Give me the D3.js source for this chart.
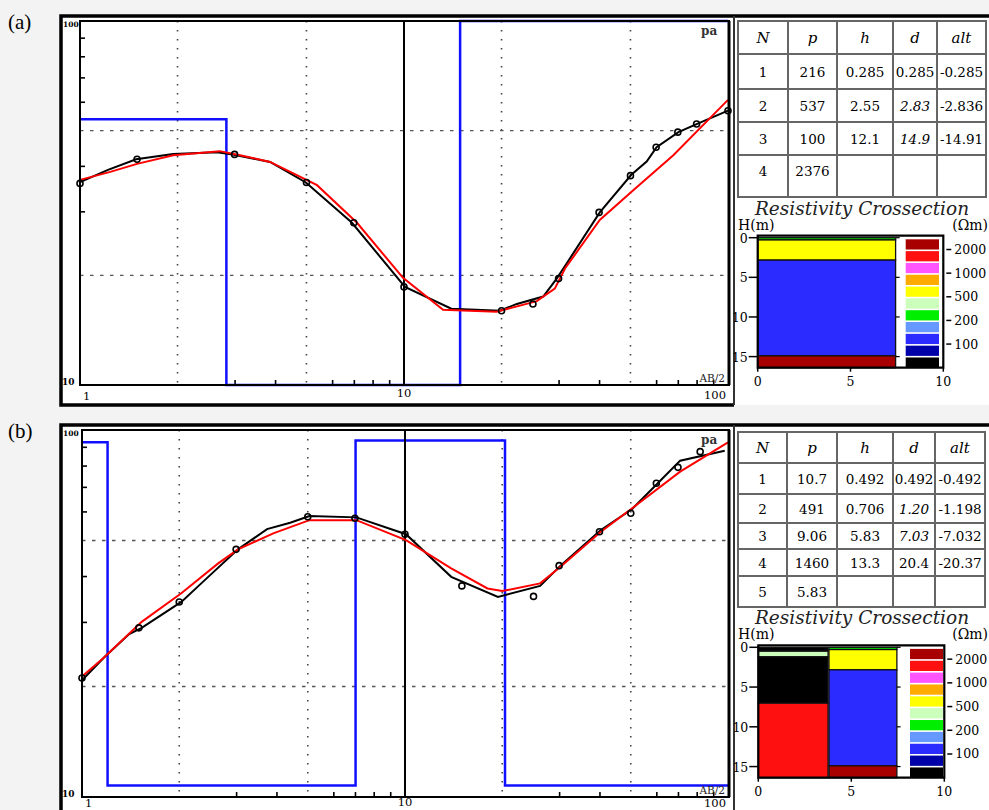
<!DOCTYPE html>
<html>
<head>
<meta charset="utf-8">
<script src="https://cdn.jsdelivr.net/npm/d3@7"></script>
<style>
  body { margin: 0; background: #f3f3f3; }
  svg { display: block; }
</style>
</head>
<body>
<svg id="chart" width="989" height="810"></svg>
<script>
// ---- sounding (a) : AB/2 vs apparent resistivity ----
const abA = [1, 1.5, 3, 5, 7, 10, 20, 25, 30, 40, 50, 60, 70, 80, 100];
const rhoObsA = [35.8, 41.7, 43.0, 36.0, 27.9, 18.6, 16.0, 16.7, 19.6, 29.8, 37.6, 45.0, 49.5, 52.1, 56.7];
const fieldA = [[1, 36.1], [1.22, 39.0], [1.49, 41.7], [1.94, 43.1], [2.65, 43.6], [2.96, 43.0], [3.86, 41.0],
  [4.98, 36.0], [6.91, 27.9], [10.07, 18.6], [14.0, 16.2], [19.8, 16.0], [22.3, 16.7], [26.9, 17.5],
  [29.6, 19.6], [31.8, 21.6], [40.2, 29.8], [50.3, 37.8], [56.1, 41.1], [60.2, 45.0], [70.3, 49.5],
  [80, 52.1], [100, 56.7]];
const fitA = [[1, 36.6], [1.24, 38.5], [1.5, 40.5], [1.94, 42.8], [2.7, 43.9], [3.12, 42.8], [3.86, 41.0],
  [5.39, 35.4], [7.16, 27.9], [9.93, 19.7], [13.2, 16.1], [19.3, 15.9], [25.7, 17.0], [29.2, 18.4],
  [31.4, 20.9], [40.2, 28.4], [51.0, 34.3], [67.8, 42.8], [100, 60.7]];
const stepA = [[1, 53.7], [2.83, 10], [14.9, 100], [100, 100]];

// ---- sounding (b) ----
const abB = [1, 1.5, 2, 3, 5, 7, 10, 15, 25, 30, 40, 50, 60, 70, 82];
const rhoObsB = [21.1, 28.9, 34.0, 47.3, 58.0, 57.5, 52.0, 37.6, 35.2, 42.7, 52.8, 59.3, 71.6, 79.1, 87.3];
const fieldB = [[1, 20.8], [1.17, 24.0], [1.40, 27.8], [1.53, 28.9], [2.03, 34.0], [2.34, 38.2], [3.04, 47.3],
  [3.74, 53.7], [4.41, 55.9], [5.06, 58.3], [7.07, 57.8], [10.07, 52.0], [13.9, 39.8], [19.4, 35.1],
  [26.2, 37.6], [30.3, 42.7], [40.4, 53.4], [50.5, 60.9], [60.6, 71.6], [71.1, 82.5], [97.7, 87.8]];
const fitB = [[1, 21.3], [1.17, 24.0], [1.53, 30.0], [2.03, 35.9], [2.64, 43.3], [3.04, 47.3], [3.91, 52.3],
  [5.06, 56.8], [7.07, 56.8], [10.07, 50.1], [13.9, 42.0], [18.0, 37.0], [20.0, 36.4], [26.2, 38.2],
  [30.3, 42.4], [40.4, 52.8], [50.5, 61.2], [71.1, 77.0], [100, 92.5]];
const stepB = [[1, 92.6], [1.20, 10.75], [7.03, 93.6], [20.4, 10.75], [100, 10.75]];

// axis ticks
const xGrid = [2, 5, 20, 50];
const xMinor = [3, 4, 6, 7, 8, 9, 30, 40, 60, 70, 80, 90];
const yGrid = [20, 50];
const yMinor = [30, 40, 60, 70, 80, 90];
const xTickLabels = [1, 10, 100];

// ---- layer tables ----
const tableHeader = ['N', 'p', 'h', 'd', 'alt'];
const tableA = [
  ['1', '216', '0.285', '0.285', '-0.285'],
  ['2', '537', '2.55', '2.83', '-2.836'],
  ['3', '100', '12.1', '14.9', '-14.91'],
  ['4', '2376', '', '', '']
];
const italicA = ['1,3', '2,3'];
const tableB = [
  ['1', '10.7', '0.492', '0.492', '-0.492'],
  ['2', '491', '0.706', '1.20', '-1.198'],
  ['3', '9.06', '5.83', '7.03', '-7.032'],
  ['4', '1460', '13.3', '20.4', '-20.37'],
  ['5', '5.83', '', '', '']
];
const italicB = ['1,3', '2,3'];

// ---- layer models for cross-sections ----
const rhoModelA = [216, 537, 100, 2376];
const depthModelA = [0.285, 2.83, 14.9];
const rhoModelB = [10.7, 491, 9.06, 1460, 5.83];
const depthModelB = [0.492, 1.20, 7.03, 20.4];

const legendColors = ['#000000', '#0000a8', '#2b2bff', '#6699ff', '#00ee00', '#ccffbb',
  '#ffff00', '#ffaa00', '#ff55ff', '#ff1010', '#a80000'];
const legendBreaks = [70.7, 100, 141, 200, 316, 500, 707, 1000, 1414, 2000];
const legendTicks = [100, 200, 500, 1000, 2000];
const depthTicks = [0, 5, 10, 15];
const distTicks = [0, 5, 10];

const color = d3.scaleThreshold().domain(legendBreaks).range(legendColors);
const svg = d3.select('#chart');
const SERIF = "'DejaVu Serif', serif";

function drawSounding(p, obsX, obsY, field, fit, step) {
  const g = svg.append('g');
  const x = d3.scaleLog().domain([1, 100]).range([p.left, p.right]);
  const y = d3.scaleLog().domain([10, 100]).range([p.bottom, p.top]);

  // frame
  g.append('rect').attr('x', 61).attr('y', p.frameT).attr('width', 928).attr('height', p.frameB - p.frameT)
    .attr('fill', '#fff');
  g.append('path').attr('d', `M989,${p.frameT}H61V${p.frameB}H734`)
    .attr('fill', 'none').attr('stroke', '#000').attr('stroke-width', 3.5);
  g.append('line').attr('x1', 734).attr('x2', 734).attr('y1', p.frameT).attr('y2', p.frameB)
    .attr('stroke', '#333').attr('stroke-width', 2);

  // grid
  xGrid.forEach(v => {
    g.append('line').attr('x1', x(v)).attr('x2', x(v)).attr('y1', p.top).attr('y2', p.bottom)
      .attr('stroke', '#444').attr('stroke-width', 1.6).attr('stroke-dasharray', '1.6,7.4');
  });
  yGrid.forEach(v => {
    g.append('line').attr('x1', p.left).attr('x2', p.right).attr('y1', y(v)).attr('y2', y(v))
      .attr('stroke', '#555').attr('stroke-width', 1.3).attr('stroke-dasharray', '3.5,6.5');
  });

  // minor ticks
  const ax = g.append('g').attr('transform', `translate(0,${p.bottom})`)
    .call(d3.axisBottom(x).tickValues(xMinor).tickSize(-5).tickFormat(''));
  const ay = g.append('g').attr('transform', `translate(${p.left},0)`)
    .call(d3.axisLeft(y).tickValues(yMinor).tickSize(-5).tickFormat(''));
  [ax, ay].forEach(a => {
    a.select('.domain').remove();
    a.selectAll('line').attr('stroke', '#000').attr('stroke-width', 1.6);
  });

  // model step line
  const line = d3.line().x(d => x(d[0])).y(d => y(d[1]));
  g.append('path').datum(step).attr('d', line.curve(d3.curveStepAfter))
    .attr('fill', 'none').attr('stroke', '#1010ff').attr('stroke-width', 2.5);
  line.curve(d3.curveLinear);

  // x = 10 line
  g.append('line').attr('x1', x(10)).attr('x2', x(10)).attr('y1', p.top).attr('y2', p.bottom)
    .attr('stroke', '#000').attr('stroke-width', 2);

  // curves
  g.append('path').datum(field).attr('d', line)
    .attr('fill', 'none').attr('stroke', '#000').attr('stroke-width', 2);
  g.append('path').datum(fit).attr('d', line)
    .attr('fill', 'none').attr('stroke', '#ff0000').attr('stroke-width', 2);
  g.selectAll('.obs').data(obsX).enter().append('circle')
    .attr('cx', d => x(d)).attr('cy', (d, i) => y(obsY[i])).attr('r', 3)
    .attr('fill', 'none').attr('stroke', '#000').attr('stroke-width', 1.6);

  // plot box
  g.append('path').attr('d', `M${p.left},${p.top}H${p.right + 1}V${p.bottom}H${p.left}Z`)
    .attr('fill', 'none').attr('stroke', '#000').attr('stroke-width', 2);
  g.append('line').attr('x1', p.right + 1).attr('x2', p.right + 1).attr('y1', p.top).attr('y2', p.bottom)
    .attr('stroke', '#000').attr('stroke-width', 3);

  // labels
  g.append('text').attr('x', 8).attr('y', p.frameT + 13).text(p.label)
    .attr('font-family', "'Liberation Serif', serif").attr('font-size', 21);
  g.append('text').attr('x', 63).attr('y', p.top + 6).text('100')
    .attr('font-family', SERIF).attr('font-size', 7.5).attr('font-weight', 'bold');
  g.append('text').attr('x', 62).attr('y', p.bottom).text('10')
    .attr('font-family', SERIF).attr('font-size', 9).attr('font-weight', 'bold');
  g.append('text').attr('x', p.right - 27).attr('y', p.top + 14).text('pa')
    .attr('font-family', SERIF).attr('font-size', 12).attr('font-weight', 'bold').attr('fill', '#333');
  g.append('text').attr('x', p.right - 3).attr('y', p.bottom - 3).attr('text-anchor', 'end').text('AB/2')
    .attr('font-family', SERIF).attr('font-size', 10.5).attr('fill', '#222');
  xTickLabels.forEach((v, i) => {
    g.append('text').attr('x', x(v) + [3, 0, -2][i]).attr('y', p.bottom + p.lab[i])
      .attr('text-anchor', ['start', 'middle', 'end'][i]).text(v)
      .attr('font-family', SERIF).attr('font-size', 11.5);
  });
}

function drawTable(t, body, italic) {
  const g = svg.append('g');
  const cx = t.cols, ry = t.rows;
  g.append('rect').attr('x', cx[0]).attr('y', ry[0]).attr('width', cx[cx.length - 1] - cx[0])
    .attr('height', ry[ry.length - 1] - ry[0]).attr('fill', '#fff')
    .attr('stroke', '#666').attr('stroke-width', 2);
  cx.slice(1, -1).forEach(v => {
    g.append('line').attr('x1', v).attr('x2', v).attr('y1', ry[0]).attr('y2', ry[ry.length - 1])
      .attr('stroke', '#666').attr('stroke-width', 2);
  });
  ry.slice(1, -1).forEach(v => {
    g.append('line').attr('x1', cx[0]).attr('x2', cx[cx.length - 1]).attr('y1', v).attr('y2', v)
      .attr('stroke', '#666').attr('stroke-width', 2);
  });
  tableHeader.forEach((h, j) => {
    g.append('text').attr('x', (cx[j] + cx[j + 1]) / 2).attr('y', (ry[0] + ry[1]) / 2 + 5)
      .attr('text-anchor', 'middle').text(h)
      .attr('font-family', SERIF).attr('font-style', 'italic').attr('font-size', 15);
  });
  body.forEach((row, i) => {
    const last = i === body.length - 1;
    const yc = last ? ry[i + 1] + 16 : (ry[i + 1] + ry[i + 2]) / 2;
    row.forEach((v, j) => {
      g.append('text').attr('x', (cx[j] + cx[j + 1]) / 2).attr('y', yc + 5)
        .attr('text-anchor', 'middle').text(v)
        .attr('font-family', SERIF).attr('font-size', 13.5)
        .attr('font-style', italic.includes(i + ',' + j) ? 'italic' : 'normal');
    });
  });
}

function drawSection(s, columns) {
  const g = svg.append('g');
  const maxDepth = 16.4;
  const sx = d3.scaleLinear().domain([0, 10]).range([s.x0, s.x1]);
  const sy = d3.scaleLinear().domain([0, maxDepth]).range([s.y0, s.y1]);

  g.append('text').attr('x', 862).attr('y', s.y0 - 23).attr('text-anchor', 'middle')
    .text('Resistivity Crossection').attr('font-family', SERIF).attr('font-style', 'italic')
    .attr('font-size', 18.5).attr('fill', '#222');
  g.append('text').attr('x', 738).attr('y', s.y0 - 8).text('H(m)')
    .attr('font-family', SERIF).attr('font-size', 14);
  g.append('text').attr('x', 988).attr('y', s.y0 - 8).attr('text-anchor', 'end').text('(Ωm)')
    .attr('font-family', SERIF).attr('font-size', 14);

  // layer blocks
  columns.forEach(col => {
    const tops = [0].concat(col.depth);
    col.rho.forEach((r, i) => {
      if (tops[i] >= maxDepth) return;
      const bot = i < col.depth.length ? Math.min(col.depth[i], maxDepth) : maxDepth;
      g.append('rect').attr('x', sx(col.from)).attr('y', sy(tops[i]))
        .attr('width', sx(col.to) - sx(col.from)).attr('height', sy(bot) - sy(tops[i]))
        .attr('fill', color(r)).attr('stroke', '#111').attr('stroke-width', 1.3);
    });
  });

  // colour legend
  const bh = (s.y1 - s.y0) / legendColors.length;
  legendColors.forEach((c, i) => {
    g.append('rect').attr('x', s.lx0).attr('y', s.y1 - (i + 1) * bh + 1.6)
      .attr('width', s.lx1 - s.lx0).attr('height', bh - 1.6).attr('fill', c);
  });
  legendTicks.forEach(t => {
    const k = legendBreaks.indexOf(t) + 1;
    const yy = s.y1 - k * bh;
    g.append('line').attr('x1', s.x1 + 3).attr('x2', s.x1 + 8).attr('y1', yy).attr('y2', yy)
      .attr('stroke', '#000').attr('stroke-width', 1.5);
    g.append('text').attr('x', s.x1 + 11).attr('y', yy + 4.5).text(t)
      .attr('font-family', SERIF).attr('font-size', 12.5);
  });

  // frame and axes
  g.append('path').attr('d', `M${s.x0},${s.y0 - 2}H${s.x1}V${s.y1}H${s.x0}Z`)
    .attr('fill', 'none').attr('stroke', '#000').attr('stroke-width', 2.2);
  depthTicks.forEach(d => {
    g.append('line').attr('x1', s.x0 - 9).attr('x2', s.x0).attr('y1', sy(d)).attr('y2', sy(d))
      .attr('stroke', '#000').attr('stroke-width', 1.5);
    g.append('line').attr('x1', sx(7.45)).attr('x2', sx(7.65)).attr('y1', sy(d)).attr('y2', sy(d))
      .attr('stroke', '#000').attr('stroke-width', 1.2);
    g.append('text').attr('x', s.x0 - 10).attr('y', sy(d) + 5).attr('text-anchor', 'end').text(d)
      .attr('font-family', SERIF).attr('font-size', 12.5);
  });
  distTicks.forEach(d => {
    g.append('line').attr('x1', sx(d)).attr('x2', sx(d)).attr('y1', s.y1).attr('y2', s.y1 + 4)
      .attr('stroke', '#000').attr('stroke-width', 1.5);
    g.append('text').attr('x', sx(d)).attr('y', s.y1 + 18).attr('text-anchor', 'middle').text(d)
      .attr('font-family', SERIF).attr('font-size', 12.5);
  });
}

// panel (a)
drawSounding({ label: '(a)', frameT: 16, frameB: 405, left: 80, right: 728, top: 21, bottom: 385, lab: [15, 12, 14] },
  abA, rhoObsA, fieldA, fitA, stepA);
drawTable({ cols: [738, 788, 837, 893, 937, 986], rows: [21, 54, 89, 122, 155, 197] }, tableA, italicA);
drawSection({ x0: 757.7, x1: 943.3, y0: 237.7, y1: 367.7, lx0: 905.7, lx1: 939 },
  [{ from: 0, to: 7.43, rho: rhoModelA, depth: depthModelA }]);

// panel (b)
drawSounding({ label: '(b)', frameT: 425, frameB: 818, left: 82, right: 728, top: 430, bottom: 797, lab: [10, 8.5, 10] },
  abB, rhoObsB, fieldB, fitB, stepB);
drawTable({ cols: [738, 787, 837, 893, 935, 985], rows: [432, 463, 494, 523, 549, 576, 607] }, tableB, italicB);
drawSection({ x0: 758.3, x1: 944.3, y0: 647.3, y1: 777.7, lx0: 910, lx1: 943 },
  [{ from: 0, to: 3.75, rho: rhoModelB, depth: depthModelB },
   { from: 3.8, to: 7.45, rho: rhoModelA, depth: depthModelA }]);
</script>
</body>
</html>
